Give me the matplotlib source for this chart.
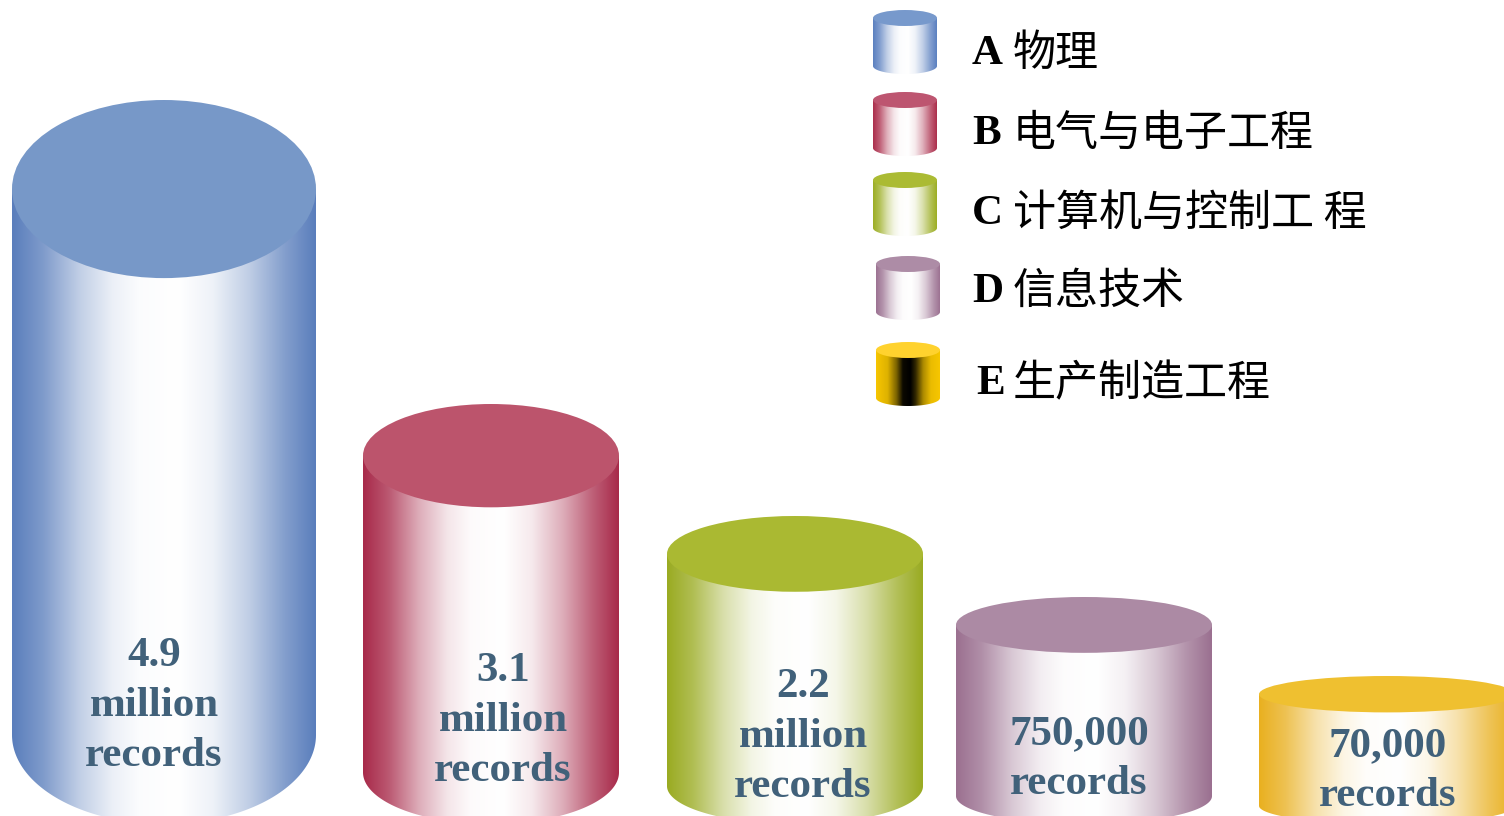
import numpy as np
import matplotlib
matplotlib.use('Agg')
import matplotlib.pyplot as plt
from matplotlib.colors import LinearSegmentedColormap, to_rgb
from matplotlib.patches import Ellipse, PathPatch
from matplotlib.path import Path

plt.rcParams['font.family'] = ['Liberation Serif', 'Noto Sans CJK SC', 'DejaVu Sans']

# records per subject area
categories = ['A', 'B', 'C', 'D', 'E']
fields = ['物理', '电气与电子工程', '计算机与控制工 程', '信息技术', '生产制造工程']
records = [4_900_000, 3_100_000, 2_200_000, 750_000, 70_000]
# cylinder heights as drawn (the chart is not to scale)
bar_heights = [724, 420, 308, 227, 148]

top_colors = ['#7798c8', '#bc546c', '#aab932', '#ac8aa4', '#efc030']
side_colors = ['#5a7ebc', '#a82a4a', '#9aab22', '#9b7090', '#e9b020']
legend_tops = ['#7799cc', '#bd5570', '#abbb33', '#ad8ca6', '#ffd22e']
legend_sides = ['#5b80c0', '#ac2e4c', '#9cae24', '#9c7292', '#f7c600']

# layout (axes units = pixels)
W, H = 1504, 816
x_centers = [164, 491, 795, 1084, 1387]
widths = [304, 256, 256, 256, 256]
ground = -8
persp = 0.123          # ellipse half-height as a fraction of the cylinder height
label_y = [110, 95, 79, 57, 45]
label_dx = [-10, 12, 8, -5, 1]
leg_x = [905, 905, 905, 908, 908]
leg_top = [806, 724, 644, 560, 474]
leg_text_y = [762, 682, 602, 524, 432]
leg_w, leg_h, leg_ry = 64, 64, 8
text_color = '#41617a'


def shade_cmap(edge, centre='#ffffff'):
    e = np.array(to_rgb(edge))
    c = np.array(to_rgb(centre))
    stops = [(0.0, 0.0), (0.1, 0.22), (0.22, 0.62), (0.33, 0.88), (0.42, 0.98),
             (0.55, 1.0), (0.66, 0.9), (0.78, 0.62), (0.9, 0.25), (1.0, 0.0)]
    return LinearSegmentedColormap.from_list(
        'shade', [(t, tuple(e + (c - e) * f)) for t, f in stops])


def dark_core_cmap(edge):
    e = np.array(to_rgb(edge))
    stops = [(0.0, 1.0), (0.18, 0.9), (0.32, 0.5), (0.42, 0.05), (0.54, 0.0),
             (0.62, 0.2), (0.74, 0.7), (0.86, 0.95), (1.0, 1.0)]
    return LinearSegmentedColormap.from_list(
        'core', [(t, tuple(e * f)) for t, f in stops])


grad = np.linspace(0, 1, 512).reshape(1, -1)


def cylinder(ax, cx, width, bottom, top, ry, cmap, top_color, z=2):
    rx = width / 2
    yb = bottom + ry
    yt = top - ry
    th = np.linspace(np.pi, 2 * np.pi, 200)
    verts = np.column_stack([cx + rx * np.cos(th), yb + ry * np.sin(th)])
    verts = np.vstack([verts, [cx + rx, yt], [cx - rx, yt], verts[:1]])
    codes = [Path.MOVETO] + [Path.LINETO] * (len(verts) - 2) + [Path.CLOSEPOLY]
    body = PathPatch(Path(verts, codes), facecolor='none', edgecolor='none',
                     transform=ax.transData)
    ax.add_patch(body)
    im = ax.imshow(grad, extent=(cx - rx, cx + rx, bottom, yt), aspect='auto',
                   cmap=cmap, interpolation='bilinear', zorder=z)
    im.set_clip_path(body)
    ax.add_patch(Ellipse((cx, yt), 2 * rx, 2 * ry, facecolor=top_color,
                         edgecolor='none', zorder=z + 0.1))


def record_label(n):
    if n >= 1_000_000:
        return f'{n / 1e6:.1f}\nmillion\nrecords'
    return f'{n:,}\nrecords'


fig = plt.figure(figsize=(W / 100, H / 100), dpi=100)
ax = fig.add_axes([0, 0, 1, 1])

for i in range(len(categories)):
    h = bar_heights[i]
    ry = persp * h
    cylinder(ax, x_centers[i], widths[i], ground, ground + h, ry,
             shade_cmap(side_colors[i]), top_colors[i])
    ax.text(x_centers[i] + label_dx[i], label_y[i], record_label(records[i]),
            ha='center', va='center', fontsize=31, fontweight='bold',
            family='Liberation Serif', color=text_color, linespacing=1.4,
            zorder=5)

# legend
for i in range(len(categories)):
    cmap = dark_core_cmap(legend_sides[i]) if i == 4 else shade_cmap(legend_sides[i])
    cylinder(ax, leg_x[i], leg_w, leg_top[i] - leg_h, leg_top[i], leg_ry,
             cmap, legend_tops[i])
    ax.text(972 + (4 if i == 4 else 0), leg_text_y[i], categories[i],
            ha='left', va='center', fontsize=31, fontweight='bold',
            family='Liberation Serif', color='black')
    ax.text(1013, leg_text_y[i], fields[i], ha='left', va='center', fontsize=31,
            family=['Noto Sans CJK SC', 'DejaVu Sans'], color='black')

ax.set_xlim(0, W)
ax.set_ylim(0, H)
ax.axis('off')
fig.savefig('out.png', dpi=100, facecolor='white')
